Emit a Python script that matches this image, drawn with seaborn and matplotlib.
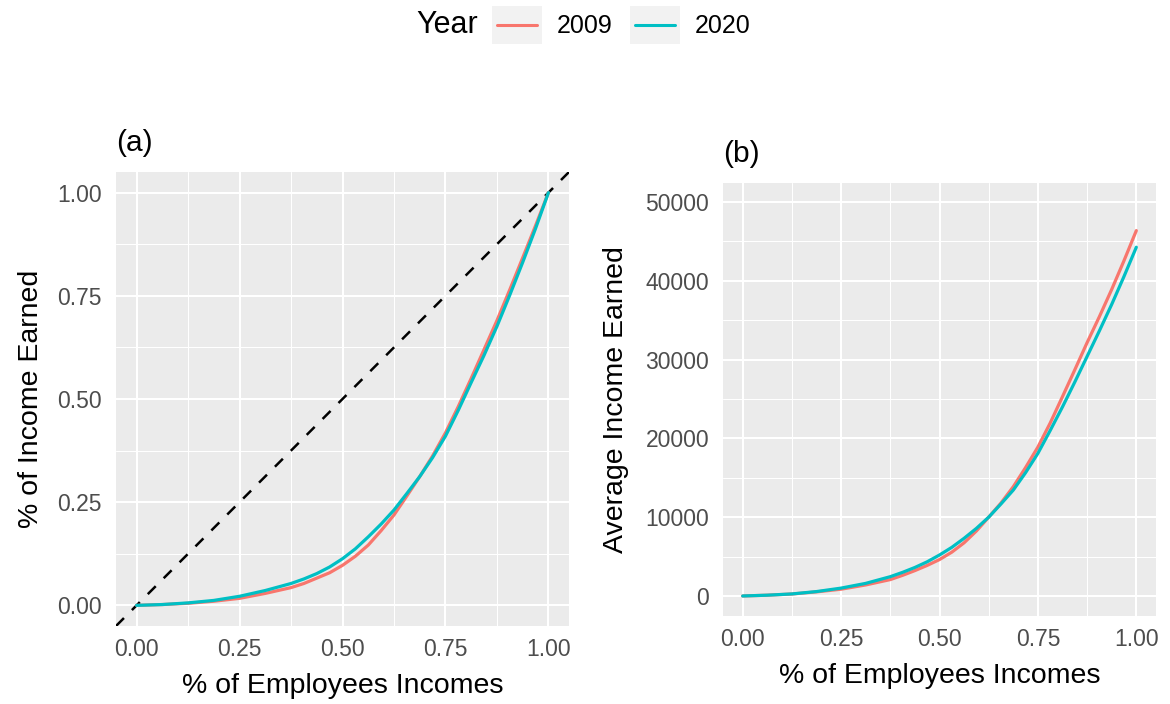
import numpy as np
import pandas as pd
import seaborn as sns
import matplotlib.pyplot as plt
from matplotlib.patches import Rectangle
from matplotlib.lines import Line2D
from matplotlib.ticker import MultipleLocator

# values
share = [0, 0.0625, 0.125, 0.1875, 0.25, 0.3125, 0.375, 0.40625, 0.4375,
         0.46875, 0.5, 0.53125, 0.5625, 0.59375, 0.625, 0.65625, 0.6875,
         0.71875, 0.75, 0.78125, 0.8125, 0.84375, 0.875, 0.90625, 0.9375,
         0.96875, 1.0]
lorenz_2009 = [0, 0.002, 0.005, 0.010, 0.017, 0.029, 0.043, 0.053, 0.066,
               0.079, 0.097, 0.119, 0.146, 0.181, 0.219, 0.265, 0.312,
               0.362, 0.418, 0.482, 0.550, 0.620, 0.690, 0.765, 0.842,
               0.920, 1.0]
lorenz_2020 = [0, 0.002, 0.006, 0.012, 0.022, 0.036, 0.053, 0.064, 0.077,
               0.093, 0.113, 0.137, 0.166, 0.197, 0.231, 0.271, 0.312,
               0.358, 0.410, 0.473, 0.540, 0.606, 0.676, 0.752, 0.831,
               0.913, 1.0]
avg_2009 = [0, 100, 250, 520, 860, 1400, 2080, 2620, 3220,
            3880, 4620, 5560, 6750, 8250, 10000, 11800, 13870,
            16300, 18900, 21950, 25300, 28700, 32150, 35450, 38900,
            42550, 46360]
avg_2020 = [0, 100, 260, 560, 1000, 1600, 2450, 3000, 3620,
            4340, 5200, 6170, 7320, 8580, 10000, 11680, 13440,
            15650, 18100, 21000, 24000, 27150, 30400, 33650, 37000,
            40550, 44250]
years = ['2009', '2020']
colors = ['#F8766D', '#00BFC4']

df = pd.DataFrame({
    'share': share * 2,
    'lorenz': lorenz_2009 + lorenz_2020,
    'avg': avg_2009 + avg_2020,
    'Year': [years[0]] * len(share) + [years[1]] * len(share),
})
palette = dict(zip(years, colors))

sns.set_theme(style='darkgrid', rc={
    'axes.facecolor': '#EBEBEB',
    'grid.color': 'white',
    'axes.edgecolor': 'none',
    'xtick.color': '#333333',
    'ytick.color': '#333333',
    'xtick.labelcolor': '#4D4D4D',
    'ytick.labelcolor': '#4D4D4D',
    'text.color': 'black',
    'axes.labelcolor': 'black',
    'lines.solid_joinstyle': 'round',
})
plt.rcParams['font.family'] = ['Liberation Sans', 'DejaVu Sans']

W, H = 1170, 704
fig = plt.figure(figsize=(W / 100, H / 100), dpi=100)
ax1 = fig.add_axes([116 / W, 1 - 626 / H, 453 / W, 454 / H])
ax2 = fig.add_axes([723 / W, 1 - 616 / H, 433 / W, 433 / H])

# (a) Lorenz curves
ax1.axline((0, 0), slope=1, color='black', lw=1.8, ls=(0, (4.5, 4.5)), zorder=2)
sns.lineplot(data=df, x='share', y='lorenz', hue='Year', palette=palette,
             estimator=None, linewidth=2.3, legend=False, ax=ax1, zorder=3)
ax1.set_xlim(-0.05, 1.05)
ax1.set_ylim(-0.05, 1.05)
ticks = [0, 0.25, 0.5, 0.75, 1.0]
tick_labels = ['0.00', '0.25', '0.50', '0.75', '1.00']
ax1.set_xticks(ticks, tick_labels)
ax1.set_yticks(ticks, tick_labels)
ax1.xaxis.set_minor_locator(MultipleLocator(0.125))
ax1.yaxis.set_minor_locator(MultipleLocator(0.125))
ax1.set_xlabel('% of Employees Incomes', fontsize=20.5, labelpad=8.5)
ax1.set_ylabel('% of Income Earned', fontsize=20.5, labelpad=10)
ax1.set_title('(a)', loc='left', fontsize=21.5, pad=15)

# (b) average income
sns.lineplot(data=df, x='share', y='avg', hue='Year', palette=palette,
             estimator=None, linewidth=2.3, legend=False, ax=ax2)
ax2.set_xlim(-0.05, 1.05)
ax2.set_ylim(-2540, 52400)
ax2.set_xticks(ticks, tick_labels)
yt = [0, 10000, 20000, 30000, 40000, 50000]
ax2.set_yticks(yt, [str(v) for v in yt])
ax2.xaxis.set_minor_locator(MultipleLocator(0.125))
ax2.yaxis.set_minor_locator(MultipleLocator(5000))
ax2.set_xlabel('% of Employees Incomes', fontsize=20.5, labelpad=8.5)
ax2.set_ylabel('Average Income Earned', fontsize=20.5, labelpad=12)
ax2.set_title('(b)', loc='left', fontsize=21.5, pad=15)

for ax in (ax1, ax2):
    ax.grid(which='major', color='white', lw=1.5)
    ax.grid(which='minor', color='white', lw=0.75)
    ax.tick_params(which='major', length=5.5, width=1.6, labelsize=16.5)
    ax.tick_params(axis='x', pad=3)
    ax.tick_params(axis='y', pad=4.5)
    ax.tick_params(which='minor', length=0)
    for s in ax.spines.values():
        s.set_visible(False)


class KeyHandler:
    # grey key box with a coloured line across it, like ggplot
    def legend_artist(self, legend, orig_handle, fontsize, handlebox):
        x0, y0 = -handlebox.xdescent, -handlebox.ydescent
        w, h = handlebox.width, handlebox.height
        tr = handlebox.get_transform()
        box = Rectangle((x0, y0), w, h, fc='#F2F2F2', ec='none', transform=tr)
        line = Line2D([x0 + 0.1 * w, x0 + 0.9 * w], [y0 + h / 2] * 2,
                      color=orig_handle.get_color(), lw=2.2, transform=tr)
        handlebox.add_artist(box)
        handlebox.add_artist(line)
        return line


handles = [Line2D([], [], color=c, lw=2.2) for c in colors]
fig.legend(handles, years, handler_map={Line2D: KeyHandler()},
           ncol=2, loc='center left', bbox_to_anchor=(492 / W, 1 - 25 / H),
           frameon=False, fontsize=18, handlelength=2, handleheight=2,
           handletextpad=0.6, columnspacing=0.7, borderpad=0, borderaxespad=0)
fig.text(416 / W, 1 - 25 / H, 'Year', fontsize=22, va='center', ha='left')

fig.savefig('out.png', dpi=100)
